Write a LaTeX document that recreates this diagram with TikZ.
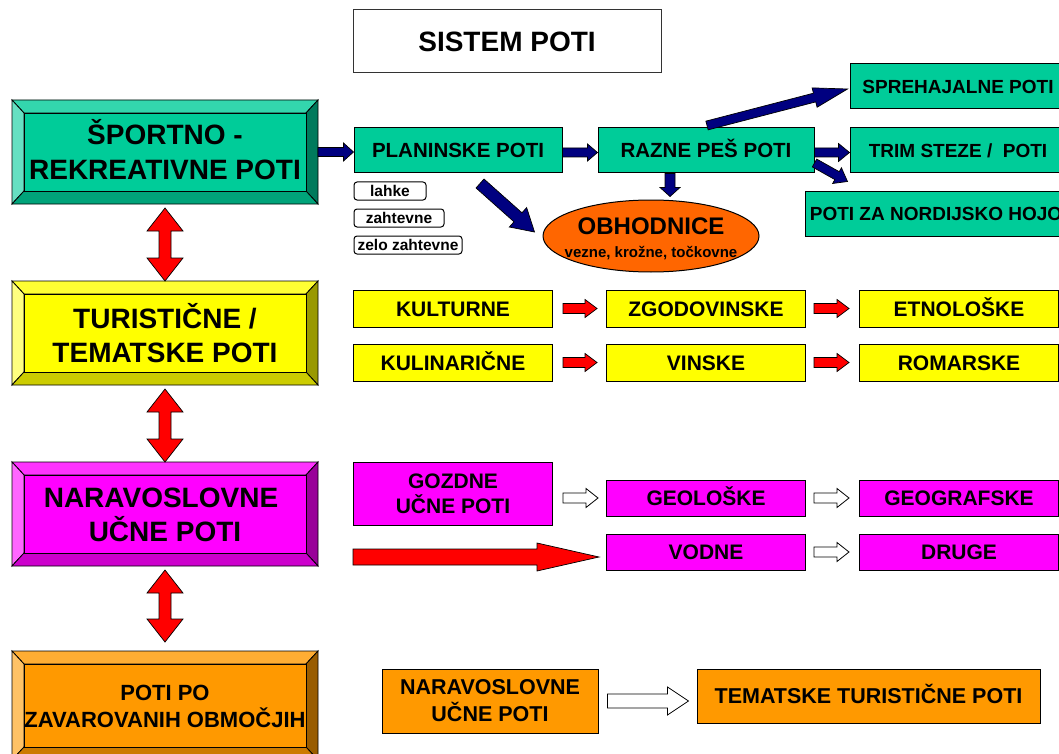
\documentclass[tikz,border=0pt]{standalone}
\usepackage{fontspec}
\setmainfont{Liberation Sans}
\usetikzlibrary{calc,shapes.geometric}
\definecolor{gA}{HTML}{00CC99}\definecolor{gT}{HTML}{33D6AD}\definecolor{gL}{HTML}{66E0C2}\definecolor{gR}{HTML}{007A5C}\definecolor{gB}{HTML}{00A37A}
\definecolor{yA}{HTML}{FFFF00}\definecolor{yT}{HTML}{FFFF33}\definecolor{yL}{HTML}{FFFF80}\definecolor{yR}{HTML}{999900}\definecolor{yB}{HTML}{CCCC00}
\definecolor{mA}{HTML}{FF00FF}\definecolor{mT}{HTML}{FF33FF}\definecolor{mL}{HTML}{FF66FF}\definecolor{mR}{HTML}{990099}\definecolor{mB}{HTML}{CC00CC}
\definecolor{oA}{HTML}{FF9900}\definecolor{oT}{HTML}{FFAD33}\definecolor{oL}{HTML}{FFC266}\definecolor{oR}{HTML}{995C00}\definecolor{oB}{HTML}{CC7A00}
\definecolor{obhc}{HTML}{FF6600}
\definecolor{navyc}{HTML}{000080}
\definecolor{redc}{HTML}{FF0000}
\newcommand\bevelbox[5]{%
 \node[minimum width=#3, minimum height=#4, inner sep=0pt, outer sep=0pt] (#1) at (#2) {};
 \coordinate (#1-a) at ($(#1.north west)+(12,13)$);
 \coordinate (#1-b) at ($(#1.north east)+(-12,13)$);
 \coordinate (#1-c) at ($(#1.south east)+(-12,-13)$);
 \coordinate (#1-d) at ($(#1.south west)+(12,-13)$);
 \filldraw[bevline, fill=#5T] (#1.north west) -- (#1.north east) -- (#1-b) -- (#1-a) -- cycle;
 \filldraw[bevline, fill=#5L] (#1.north west) -- (#1-a) -- (#1-d) -- (#1.south west) -- cycle;
 \filldraw[bevline, fill=#5R] (#1.north east) -- (#1.south east) -- (#1-c) -- (#1-b) -- cycle;
 \filldraw[bevline, fill=#5B] (#1.south west) -- (#1-d) -- (#1-c) -- (#1.south east) -- cycle;
 \filldraw[bevline, fill=#5A] (#1-a) -- (#1-b) -- (#1-c) -- (#1-d) -- cycle;
}
% single block arrow: style, from, to, shaft half, head half, head length
\newcommand\blk[6]{%
 \draw[#1] let \p1=($(#3)-(#2)$), \n1={atan2(\y1,\x1)}, \n2={veclen(\x1,\y1)} in
  ([shift={(#2)},rotate=\n1]0,#4)
  -- ([shift={(#2)},rotate=\n1]\n2-#6,#4)
  -- ([shift={(#2)},rotate=\n1]\n2-#6,#5)
  -- (#3)
  -- ([shift={(#2)},rotate=\n1]\n2-#6,-#5)
  -- ([shift={(#2)},rotate=\n1]\n2-#6,-#4)
  -- ([shift={(#2)},rotate=\n1]0,-#4)
  -- cycle;}
% double block arrow
\newcommand\dblk[6]{%
 \draw[#1] let \p1=($(#3)-(#2)$), \n1={atan2(\y1,\x1)}, \n2={veclen(\x1,\y1)} in
  (#2)
  -- ([shift={(#2)},rotate=\n1]#6,#5)
  -- ([shift={(#2)},rotate=\n1]#6,#4)
  -- ([shift={(#2)},rotate=\n1]\n2-#6,#4)
  -- ([shift={(#2)},rotate=\n1]\n2-#6,#5)
  -- (#3)
  -- ([shift={(#2)},rotate=\n1]\n2-#6,-#5)
  -- ([shift={(#2)},rotate=\n1]\n2-#6,-#4)
  -- ([shift={(#2)},rotate=\n1]#6,-#4)
  -- ([shift={(#2)},rotate=\n1]#6,-#5)
  -- cycle;}
\tikzset{
 bevline/.style={draw=black, line width=0.8pt, line join=miter},
 bigtxt/.style={align=center, inner sep=0pt, font=\fontsize{28}{35}\selectfont\bfseries},
 gbox/.style={draw=black, line width=1pt, fill=gA, minimum height=45pt, inner sep=0pt, text height=14.8pt, text depth=0pt, font=\fontsize{20.5}{24}\selectfont\bfseries},
 gsbox/.style={draw=black, line width=1pt, fill=gA, minimum height=45pt, inner sep=0pt, text height=13.7pt, text depth=0pt, font=\fontsize{19}{22}\selectfont\bfseries},
 ybox/.style={draw=black, line width=1pt, fill=yA, minimum height=37pt, minimum width=199pt, inner sep=0pt, text height=15.1pt, text depth=0pt, font=\fontsize{21}{24}\selectfont\bfseries},
 mbase/.style={draw=black, line width=1pt, fill=mA, minimum width=199pt, inner sep=0pt, align=center, font=\fontsize{21}{25}\selectfont\bfseries},
 mbox/.style={mbase, minimum height=36pt, text height=15.1pt, text depth=0pt},
 obox/.style={draw=black, line width=1pt, fill=oA, inner sep=0pt, align=center, font=\fontsize{21.5}{27}\selectfont\bfseries},
 smallbox/.style={draw=black, line width=1pt, rounded corners=3pt, fill=white, minimum height=18pt, inner sep=0pt, font=\fontsize{15.5}{17}\selectfont\bfseries},
 navyarr/.style={fill=navyc, draw=black, line width=0.7pt, line join=miter},
 redarr/.style={fill=redc, draw=black, line width=0.7pt, line join=miter},
 whitearr/.style={fill=white, draw=black, line width=0.8pt, line join=miter},
}
\begin{document}
\begin{tikzpicture}[x=1pt,y=-1pt]
\clip (0,0) rectangle (1059,754);
\fill[white] (0,0) rectangle (1059,754);

% title
\node[draw=black!80, line width=1pt, minimum width=308pt, minimum height=63pt, inner sep=0pt, text height=20pt, text depth=0pt, font=\fontsize{28}{32}\selectfont\bfseries] (title) at (507,41.5) {SISTEM POTI};

% left bevel boxes
\bevelbox{sport}{165,152}{306pt}{104pt}{g}
\node[bigtxt] (sport-t) at ($(sport)+(0,-2)$) {ŠPORTNO -\\REKREATIVNE POTI};
\bevelbox{tur}{165,333}{306pt}{104pt}{y}
\node[bigtxt, font=\fontsize{28}{34}\selectfont\bfseries] (tur-t) at (tur) {TURISTIČNE /\\TEMATSKE POTI};
\bevelbox{nar}{165,514}{306pt}{104pt}{m}
\node[bigtxt, font=\fontsize{28}{34}\selectfont\bfseries] (nar-t) at ($(nar)+(0,1)$) {\hspace*{-8pt}NARAVOSLOVNE\\UČNE POTI};
\bevelbox{zav}{165,705.5}{306pt}{109pt}{o}
\node[bigtxt, font=\fontsize{22}{27}\selectfont\bfseries] (zav-t) at ($(zav)+(0,1)$) {POTI PO\\ZAVAROVANIH OBMOČJIH};

% red double arrows
\coordinate (d1a) at ($(sport.south)+(0,4)$); \coordinate (d1b) at (tur.north);
\dblk{redarr}{d1a}{d1b}{6}{18}{23}
\coordinate (d2a) at ($(tur.south)+(0,4)$); \coordinate (d2b) at (nar.north);
\dblk{redarr}{d2a}{d2b}{6}{18}{23}
\coordinate (d3a) at ($(nar.south)+(0,4)$); \coordinate (d3b) at ($(zav.north)+(0,-9)$);
\dblk{redarr}{d3a}{d3b}{6}{18}{23}

% green row
\node[gbox, minimum width=208pt] (plan) at (458,150.5) {PLANINSKE POTI};
\node[gbox, minimum width=216pt] (razne) at (706,150.5) {RAZNE PEŠ POTI};
\node[gsbox, minimum width=216pt] (spreh) at (958,86.5) {SPREHAJALNE POTI};
\node[gsbox, minimum width=216pt] (trim) at (958,150.5) {TRIM STEZE / \ POTI};
\node[gsbox, minimum width=262pt] (nord) at (936,213.5) {POTI ZA NORDIJSKO HOJO};

\node[smallbox, minimum width=72pt] (lahke) at (390,191) {lahke};
\node[smallbox, minimum width=90pt] (zaht) at (399,218) {zahtevne};
\node[smallbox, minimum width=108pt] (zelo) at (408,245) {zelo zahtevne};

\node[ellipse, draw=black, line width=1pt, fill=obhc, minimum width=216pt, minimum height=72pt, inner sep=0pt] (obh) at (651,236) {};
\node[inner sep=0pt, text height=17.2pt, text depth=0pt, font=\fontsize{24}{26}\selectfont\bfseries] (obh-t1) at ($(obh.center)+(0,-10)$) {OBHODNICE};
\node[inner sep=0pt, font=\fontsize{15}{17}\selectfont\bfseries] (obh-t2) at ($(obh.center)+(0,17)$) {vezne, krožne, točkovne};

% navy arrows
\coordinate (n1a) at (sport.east); \coordinate (n1b) at (plan.west |- sport.east);
\blk{navyarr}{n1a}{n1b}{4.5}{9}{10}
\coordinate (n2a) at ($(plan.east)+(0,2)$); \coordinate (n2b) at ($(razne.west)+(0,2)$);
\blk{navyarr}{n2a}{n2b}{4.5}{8.5}{10}
\coordinate (n3a) at ($(razne.south)+(-36,0)$); \coordinate (n3b) at ($(razne.south)+(-36,23)$);
\blk{navyarr}{n3a}{n3b}{5}{10}{9}
\coordinate (n4a) at ($(plan.south)+(22,10)$); \coordinate (n4b) at ($(obh.west)+(-8,-4)$);
\blk{navyarr}{n4a}{n4b}{6}{13}{22}
\coordinate (n5a) at ($(razne.north)+(1,-2)$); \coordinate (n5b) at ($(spreh.west)+(-2,2.5)$);
\blk{navyarr}{n5a}{n5b}{4.5}{10}{34}
\coordinate (n6a) at ($(razne.east)+(0,2)$); \coordinate (n6b) at ($(trim.west)+(0,2)$);
\blk{navyarr}{n6a}{n6b}{4.5}{9}{11}
\coordinate (n7a) at ($(razne.east)+(0,12.5)$); \coordinate (n7b) at ($(nord.north west)+(43,-9)$);
\blk{navyarr}{n7a}{n7b}{4.5}{9}{12}

% yellow rows
\node[ybox] (kult) at (453,308.5) {KULTURNE};
\node[ybox] (zgod) at (706,308.5) {ZGODOVINSKE};
\node[ybox] (etno) at (959,308.5) {ETNOLOŠKE};
\node[ybox] (kulin) at (453,362.5) {KULINARIČNE};
\node[ybox] (vin) at (706,362.5) {VINSKE};
\node[ybox] (rom) at (959,362.5) {ROMARSKE};
\coordinate (r1a) at ($(kult.east)+(10,0)$); \coordinate (r1b) at ($(zgod.west)+(-9,0)$);
\blk{redarr}{r1a}{r1b}{5}{9}{12}
\coordinate (r2a) at ($(zgod.east)+(8,0)$); \coordinate (r2b) at ($(etno.west)+(-10,0)$);
\blk{redarr}{r2a}{r2b}{5}{9}{12}
\coordinate (r3a) at ($(kulin.east)+(10,0)$); \coordinate (r3b) at ($(vin.west)+(-9,0)$);
\blk{redarr}{r3a}{r3b}{5}{9}{12}
\coordinate (r4a) at ($(vin.east)+(8,0)$); \coordinate (r4b) at ($(rom.west)+(-10,0)$);
\blk{redarr}{r4a}{r4b}{5}{9}{12}

% magenta rows
\node[mbase, minimum height=63pt] (gozd) at (453,493.5) {GOZDNE\\UČNE POTI};
\node[mbox] (geol) at (706,498) {GEOLOŠKE};
\node[mbox] (geog) at (959,498) {GEOGRAFSKE};
\node[mbox] (vodne) at (706,552) {VODNE};
\node[mbox] (druge) at (959,552) {DRUGE};
\coordinate (w1a) at ($(gozd.east |- geol.west)+(10,0)$); \coordinate (w1b) at ($(geol.west)+(-8,0)$);
\blk{whitearr}{w1a}{w1b}{5}{9.5}{12}
\coordinate (w2a) at ($(geol.east)+(8,0)$); \coordinate (w2b) at ($(geog.west)+(-10,0)$);
\blk{whitearr}{w2a}{w2b}{5}{9.5}{12}
\coordinate (w3a) at ($(vodne.east)+(8,0)$); \coordinate (w3b) at ($(druge.west)+(-10,0)$);
\blk{whitearr}{w3a}{w3b}{5}{9.5}{12}
\coordinate (br1a) at ($(gozd.west |- vodne.west)+(0,5)$); \coordinate (br1b) at ($(vodne.west)+(-7,5)$);
\blk{redarr}{br1a}{br1b}{8}{14}{62}

% orange bottom
\node[obox, minimum width=216pt, minimum height=64pt] (onar) at (490,701) {NARAVOSLOVNE\\UČNE POTI};
\node[obox, minimum width=343pt, minimum height=54pt, text height=15.5pt, text depth=0pt] (tema) at (868.5,696) {TEMATSKE TURISTIČNE POTI};
\coordinate (bw1a) at ($(onar.east)+(9,0)$); \coordinate (bw1b) at ($(tema.west |- onar.east)+(-8,0)$);
\blk{whitearr}{bw1a}{bw1b}{7}{14}{21}
\end{tikzpicture}
\end{document}
